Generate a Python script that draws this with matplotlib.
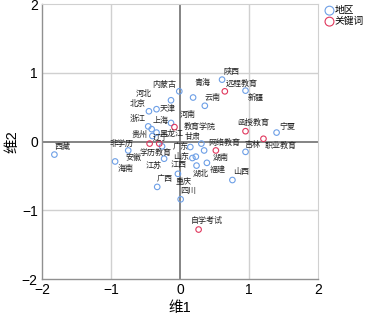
import matplotlib
matplotlib.use("Agg")
import matplotlib.pyplot as plt

plt.rcParams['font.family'] = ['Liberation Sans', 'Noto Sans CJK SC', 'DejaVu Sans']

# 地区 (regions)
region_names = ["西藏", "海南", "安徽", "北京", "河北", "内蒙古", "天津", "青海", "云南", "陕西",
                "新疆", "宁夏", "吉林", "山西", "广西", "四川", "重庆", "浙江", "上海", "贵州",
                "黑龙江", "辽宁", "河南", "江苏", "江西", "广东", "甘肃", "山东", "湖北", "福建", "湖南"]
region_x = [-1.82, -0.94, -0.75, -0.45, -0.13, -0.01, -0.34, 0.19, 0.36, 0.61,
            0.95, 1.40, 0.95, 0.76, -0.33, 0.01, -0.03, -0.46, -0.34, -0.40,
            -0.41, -0.26, -0.13, -0.23, 0.23, 0.15, 0.31, 0.18, 0.24, 0.39, 0.35]
region_y = [-0.19, -0.29, -0.13, 0.44, 0.60, 0.73, 0.47, 0.64, 0.52, 0.90,
            0.74, 0.13, -0.15, -0.56, -0.66, -0.84, -0.47, 0.22, 0.13, 0.08,
            0.18, -0.07, 0.27, -0.25, -0.22, -0.08, -0.03, -0.24, -0.35, -0.31, -0.13]

# 关键词 (keywords)
kw_names = ["非学历", "学历教育", "教育学院", "远程教育", "函授教育", "职业教育", "网络教育", "自学考试"]
kw_x = [-0.44, -0.30, -0.08, 0.65, 0.95, 1.21, 0.52, 0.27]
kw_y = [-0.03, -0.03, 0.21, 0.73, 0.15, 0.04, -0.13, -1.28]

# label offsets in pixels (layout only)
region_off = [(8, 8), (11, -8), (5, -7), (-11, 7), (-27, 6), (-15, 6), (11, 0), (9, 15), (8, 8), (9, 8),
              (10, -7), (11, 6), (7, 7), (9, 8), (7, 8), (8, 8), (6, -9), (-11, 7), (4, 12), (-13, 1),
              (20, -5), (-1, 7), (17, 8), (-10, -7), (-17, -9), (-10, 0), (-9, 7), (-11, 1), (4, -8), (11, -7), (17, -7)]
kw_off = [(-28, 0), (-4, -9), (25, 0), (17, 8), (8, 8), (17, -7), (8, 8), (8, 9)]

blue = "#6d9fe6"
red = "#e0365c"

fig = plt.figure(figsize=(3.67, 3.20), dpi=100)
ax = fig.add_axes([0.1144, 0.128, 0.752, 0.8595])

ax.set_xlim(-2, 2)
ax.set_ylim(-2, 2)
for v in [-1, 1]:
    ax.axvline(v, color="#d0d0d0", lw=1.0, zorder=0)
    ax.axhline(v, color="#d0d0d0", lw=1.0, zorder=0)
ax.axvline(0, color="#707070", lw=1.2, zorder=1)
ax.axhline(0, color="#707070", lw=1.2, zorder=1)

ax.scatter(region_x, region_y, s=16, facecolors="none", edgecolors=blue, linewidths=0.8, label="地区", zorder=3)
ax.scatter(kw_x, kw_y, s=16, facecolors="none", edgecolors=red, linewidths=0.8, label="关键词", zorder=3)

for n, x, y, o in zip(region_names, region_x, region_y, region_off):
    ax.annotate(n, (x, y), xytext=o, textcoords="offset pixels", ha="center", va="center",
                fontsize=5.8, color="#222222", zorder=4)
for n, x, y, o in zip(kw_names, kw_x, kw_y, kw_off):
    ax.annotate(n, (x, y), xytext=o, textcoords="offset pixels", ha="center", va="center",
                fontsize=5.8, color="#222222", zorder=4)

ax.set_xticks([-2, -1, 0, 1, 2])
ax.set_yticks([-2, -1, 0, 1, 2])
ax.tick_params(labelsize=10, length=0, pad=3)
for s in ["top", "right"]:
    ax.spines[s].set_color("#d0d0d0")
for s in ["left", "bottom"]:
    ax.spines[s].set_color("#909090")
    ax.spines[s].set_linewidth(1.0)

ax.set_xlabel("维1", fontsize=10.5, labelpad=3)
ax.set_ylabel("维2", fontsize=10.5, labelpad=2)

fig.legend(loc="upper left", bbox_to_anchor=(0.866, 1.005), frameon=False, fontsize=7,
           handletextpad=0.0, borderpad=0.2, labelspacing=0.1, markerscale=1.6, handlelength=1.0)

fig.savefig("out.png", dpi=100)
